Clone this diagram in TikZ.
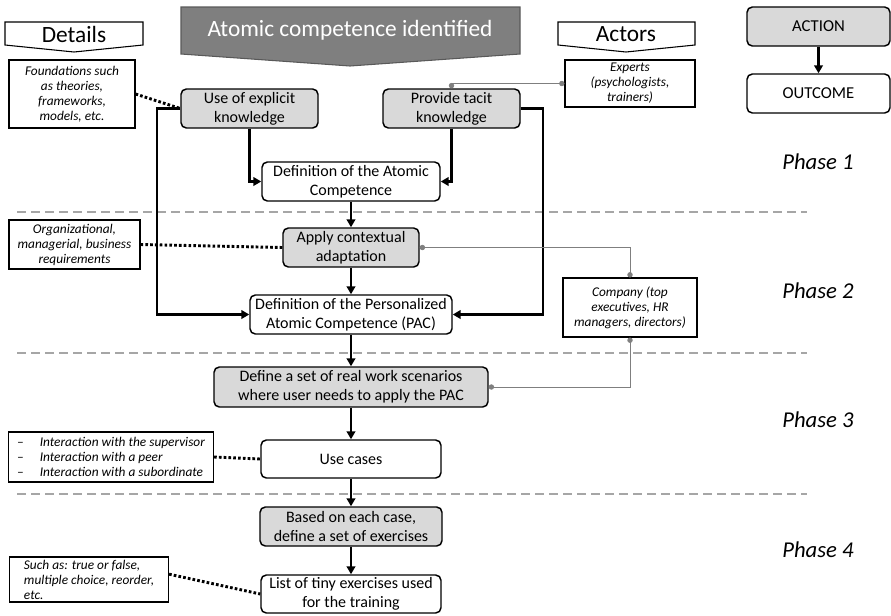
\documentclass[tikz,border=0pt]{standalone}
\usepackage{fontspec}
\setmainfont{Carlito}
\usetikzlibrary{arrows.meta}

\definecolor{boxgray}{HTML}{D9D9D9}
\definecolor{bannergray}{HTML}{7F7F7F}
\definecolor{sepgray}{HTML}{A6A6A6}
\definecolor{linkgray}{HTML}{7F7F7F}

\tikzset{
  boxsize/.style 2 args={minimum width=#1*0.75pt, minimum height=#2*0.75pt},
  outcome/.style={draw, rounded corners=4pt, line width=1.1pt, fill=white, align=center, inner sep=0pt, font=\fontsize{12}{14.5}\selectfont},
  action/.style={outcome, fill=boxgray},
  detail/.style={draw, line width=0.8pt, fill=white, align=center, inner sep=0pt, font=\fontsize{10}{11.25}\selectfont\itshape},
  flow/.style={line width=1.8pt, -{Triangle[length=6pt,width=6.5pt]}},
  note/.style={line width=2.2pt, dash pattern=on 2pt off 1.6pt},
  link/.style={linkgray, line width=0.6pt, {Circle[length=4pt]}-{Circle[length=4pt]}},
  sep/.style={sepgray, line width=1.5pt, dash pattern=on 7pt off 3.5pt},
  phase/.style={font=\fontsize{17}{20}\selectfont\itshape},
  banner/.style={draw, line width=0.8pt, fill=white},
  head/.style={font=\fontsize{17.5}{20}\selectfont}
}

\begin{document}
\begin{tikzpicture}[x=0.75pt, y=-0.75pt]
\useasboundingbox (0,0) rectangle (891,615);

% separators between phases
\draw[sep] (17,212) -- (807,212)
  (17,353) -- (807,353)
  (17,494) -- (807,494);

% banners
\filldraw[banner, fill=bannergray, draw=bannergray!70!black] (181,7) -- (520,7) -- (520,54) -- (350,66) -- (181,54) -- cycle;
\node[head, text=white] (title) at (350,30) {Atomic competence identified};
\draw[banner] (5,22) -- (143,22) -- (143,45) -- (74,52) -- (5,45) -- cycle;
\node[head] (details) at (74,34) {Details};
\draw[banner] (558,22) -- (695,22) -- (695,45) -- (626,52) -- (558,45) -- cycle;
\node[head] (actors) at (626,34) {Actors};

% legend
\node[action, boxsize={143}{39}, font=\fontsize{12.5}{14}\selectfont] (legaction) at (818.5,26.5) {ACTION};
\node[outcome, boxsize={143}{39}, font=\fontsize{12.5}{14}\selectfont] (legoutcome) at (818.5,93.5) {OUTCOME};
\draw[flow] (legaction.south) -- (legoutcome.north);

% phases
\node[phase] (phase1) at (818,162) {Phase 1};
\node[phase] (phase2) at (818,291) {Phase 2};
\node[phase] (phase3) at (818,420) {Phase 3};
\node[phase] (phase4) at (818,550) {Phase 4};

% phase 1
\node[action, boxsize={137}{39}] (explicit) at (249.5,108.5) {Use of explicit\\knowledge};
\node[action, boxsize={137}{39}] (tacit) at (451.5,108.5) {Provide tacit\\knowledge};
\node[outcome, boxsize={178}{39}] (ac) at (351,181.5) {Definition of the Atomic\\Competence};
\node[detail, boxsize={126}{68}] (foundations) at (72,94) {Foundations such\\as theories,\\frameworks,\\models, etc.};
\node[detail, boxsize={130}{47}] (experts) at (630,83.5) {Experts\\(psychologists,\\trainers)};

% phase 2
\node[action, boxsize={136}{39}] (apply) at (351,247.5) {Apply contextual\\adaptation};
\node[outcome, boxsize={202}{39}] (pac) at (351,314.5) {Definition of the Personalized\\Atomic Competence (PAC)};
\node[detail, boxsize={131}{49}] (requirements) at (74.5,244.5) {Organizational,\\managerial, business\\requirements};
\node[detail, boxsize={134}{59}] (company) at (630,307.5) {Company (top\\executives, HR\\managers, directors)};

% phase 3
\node[action, boxsize={274}{40}] (scenarios) at (351,387) {Define a set of real work scenarios\\where user needs to apply the PAC};
\node[outcome, boxsize={180}{38}] (usecases) at (351,459) {Use cases};
\node[detail, boxsize={205}{50}, align=left, inner xsep=4pt, anchor=west] (interactions) at (8,457) {--\hspace{12pt}Interaction with the supervisor\\--\hspace{12pt}Interaction with a peer\\--\hspace{12pt}Interaction with a subordinate};

% phase 4
\node[action, boxsize={182}{39}] (exercises) at (351,526.5) {Based on each case,\\define a set of exercises};
\node[outcome, boxsize={180}{38}] (tiny) at (351,594) {List of tiny exercises used\\for the training};
\node[detail, boxsize={159}{45}, align=left, inner xsep=3pt, anchor=west] (types) at (9,579.5) {Such as: true or false,\\multiple choice, reorder,\\etc.};

% flow arrows
\draw[flow] (explicit.south) |- (ac.west);
\draw[flow] (tacit.south) |- (ac.east);
\draw[flow] (explicit.west) -- ++(-23,0) |- (pac.west);
\draw[flow] (tacit.east) -- ++(22,0) |- (pac.east);
\draw[flow] (ac.south) -- (apply.north);
\draw[flow] (apply.south) -- (pac.north);
\draw[flow] (pac.south) -- (scenarios.north);
\draw[flow] (scenarios.south) -- (usecases.north);
\draw[flow] (usecases.south) -- (exercises.north);
\draw[flow] (exercises.south) -- (tiny.north);

% details
\draw[note] (foundations.east) -- (explicit.west);
\draw[note] (requirements.east) -- (apply.west);
\draw[note] (interactions.east) -- (usecases.west);
\draw[note] ([yshift=4pt]types.east) -- (tiny.west);

% actors
\draw[link] (tacit.north) |- (experts.west);
\draw[link] (apply.east) -| (company.north);
\draw[link] (company.south) |- (scenarios.east);

\end{tikzpicture}
\end{document}
